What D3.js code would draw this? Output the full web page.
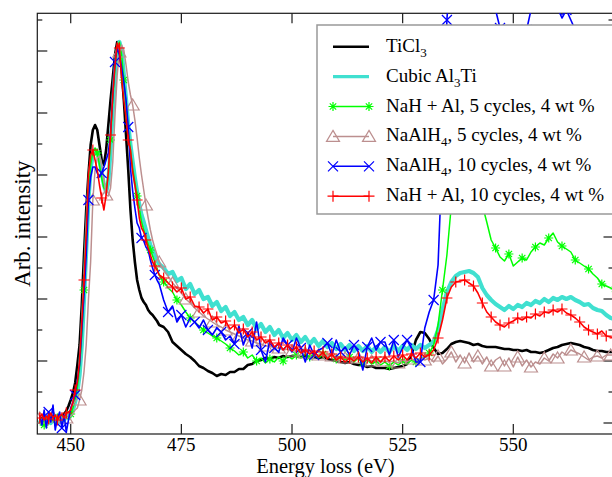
<!DOCTYPE html>
<html><head><meta charset="utf-8">
<script src="https://cdn.jsdelivr.net/npm/d3@7"></script>
<style>
body{margin:0;background:#fff}
svg{display:block}
text{font-family:"Liberation Serif","Times New Roman",serif;fill:#000}
</style>
</head><body>
<svg id="chart" width="612" height="477"></svg>
<script>
// Energy loss grid (eV)
const energy = [
443,443.5,444,444.5,445,445.5,446,446.5,447,447.5,448,448.5,449,449.5,
450,450.5,451,451.5,452,452.5,453,453.5,454,454.5,455,455.5,456,456.5,
457,457.5,458,458.5,459,459.5,460,460.5,461,461.5,462,462.5,463,463.5,
464,464.5,465,465.5,466,466.5,467,467.5,468,468.5,469,469.5,470,
471,472,473,474,475,476,477,478,479,480,
481,482,483,484,485,486,487,488,489,490,
491,492,493,494,495,496,497,498,499,500,
501,502,503,504,505,506,507,508,509,510,
511,512,513,514,515,516,517,518,519,520,
521,522,523,524,525,526,527,528,529,530,
531,532,533,534,535,536,537,538,539,540,
541,542,543,544,545,546,547,548,549,550,
551,552,553,554,555,556,557,558,559,560,
561,562,563,564,565,566,567,568,569,570,
571,572,573];

// Intensities (arb. units)
const ticl3 = [
3,5,2,6,3,5,7,4,6,5,7,9,12,17,
23,30,40,58,78,118,168,213,248,278,293,298,293,278,
263,258,273,298,323,345,368,381,378,353,323,288,253,213,
183,161,143,133,125,121,118,113,110,108,105,102,98,
96,91,81,77,73,69,66,62,57,55,
52,50,47,49,48,51,51,54,54,58,
59,62,63,65,64,66,65,67,66,67,
67,66,67,65,66,65,66,64,63,62,
61,60,61,59,58,58,56,57,55,55,
55,54,55,56,57,59,68,83,91,90,
84,75,69,70,74,79,81,82,81,80,
78,79,77,76,76,76,75,74,74,73,
73,72,73,71,71,70,71,73,75,76,
78,79,80,79,78,76,75,73,72,72,
71,71,71];

const cubicAl3Ti = [
3,-1,5,1,6,0,4,2,7,1,5,3,7,5,
8,13,21,31,48,78,123,173,223,255,268,273,271,263,
251,238,231,241,273,313,348,371,381,373,348,323,298,278,
261,245,231,218,208,201,193,185,178,173,167,163,159,
155,149,151,142,145,134,139,129,133,124,
126,117,121,112,116,107,111,103,106,98,
103,94,99,91,96,88,93,85,90,83,
88,81,86,79,84,77,82,76,80,74,
79,73,78,72,77,72,77,71,76,71,
76,71,77,72,77,73,78,74,78,75,
78,81,93,113,131,141,147,150,151,152,
150,146,135,128,123,119,116,113,117,114,
118,116,120,118,122,120,124,121,125,123,
126,124,126,123,121,118,119,115,113,112,
108,105,104];

const nahAl5 = [
1,5,-2,4,0,6,2,-1,5,3,7,2,6,4,
9,15,23,35,55,88,133,183,228,258,271,275,270,258,
245,235,233,248,283,323,355,375,381,368,343,318,293,273,
255,241,227,215,201,193,185,179,173,167,161,155,148,
141,135,131,123,118,111,105,101,97,93,
90,87,85,82,79,75,72,68,71,65,
68,62,65,60,64,61,66,62,67,64,
68,65,69,66,68,65,69,66,68,64,
67,63,66,61,65,60,63,59,62,58,
61,57,61,58,62,59,63,61,65,66,
70,78,98,133,168,218,263,293,305,301,
278,248,218,201,183,175,166,162,169,157,
161,165,163,171,176,180,178,185,190,181,
177,174,171,163,160,157,154,149,145,139,
137,135,134];

const naalh4_5 = [
5,2,6,1,4,3,6,2,5,4,6,3,5,6,
7,9,13,15,23,33,51,78,123,161,223,253,265,267,
258,243,228,227,235,261,308,348,371,378,373,358,341,328,
318,303,285,265,248,233,218,205,193,183,175,168,161,
153,147,140,135,130,124,120,115,111,107,
104,101,98,96,93,91,89,87,85,83,
82,80,79,77,77,75,75,73,74,72,
72,71,70,70,69,68,68,67,67,66,
66,65,65,64,65,63,64,62,63,61,
62,61,62,60,63,61,64,62,65,63,
65,61,67,59,64,71,61,68,60,70,
61,67,59,66,57,63,66,57,65,56,
66,57,63,56,61,59,65,62,69,65,
71,68,73,71,69,66,63,66,67,65,
68,68,68];

const naalh4_10 = [
8,-2,13,-5,11,1,18,-7,5,11,-5,8,-9,3,
15,21,28,43,58,93,128,168,223,246,256,256,250,246,
250,256,263,270,290,328,361,375,368,356,341,323,296,255,
232,215,200,195,185,182,176,173,163,155,148,143,139,
123,111,117,101,108,96,105,101,95,103,
93,88,95,91,83,87,79,97,78,90,
75,101,73,61,83,75,71,85,78,71,
85,75,61,78,68,73,75,80,68,83,
71,76,68,78,71,53,76,85,73,81,
81,68,83,66,75,83,75,61,61,95,
111,123,158,273,403,473,503,523,533,528,
513,493,468,443,428,413,395,378,363,358,
363,373,393,413,433,448,443,433,423,415,
405,413,403,393,373,353,338,328,323,318,
315,313,311];

const nahAl10 = [
5,9,3,7,4,10,5,8,3,7,9,5,10,11,
13,21,33,41,63,101,143,191,248,268,273,263,253,238,
225,213,228,251,288,328,358,380,375,345,323,305,283,273,
251,238,223,205,195,191,183,175,168,161,157,153,148,
145,140,136,131,135,124,126,117,116,110,
114,103,106,100,102,94,98,90,94,86,
91,83,86,80,83,76,80,73,78,72,
76,70,73,69,72,66,71,64,69,63,
66,61,65,62,66,61,65,60,66,61,
66,62,67,63,68,63,69,65,70,66,
68,73,85,103,125,136,141,142,143,140,
137,130,120,111,106,101,98,96,100,102,
105,103,106,105,109,107,111,110,113,111,
114,110,108,105,101,96,93,91,89,92,
87,86,85];

const xTicks = [450, 475, 500, 525, 550];
const yMajorTicks = [0, 62, 124, 186, 248, 310, 372];
const yMinorTicks = [31, 93, 155, 217, 279, 341, 403];

const legendLabels = [
  [["TiCl",0],["3",1]],
  [["Cubic Al",0],["3",1],["Ti",0]],
  [["NaH + Al, 5 cycles, 4 wt %",0]],
  [["NaAlH",0],["4",1],[", 5 cycles, 4 wt %",0]],
  [["NaAlH",0],["4",1],[", 10 cycles, 4 wt %",0]],
  [["NaH + Al, 10 cycles, 4 wt %",0]]
];

const series = [
  {values: ticl3,      color: "#000000", width: 2.6, marker: null},
  {values: cubicAl3Ti, color: "#40e0d0", width: 4.2, marker: null},
  {values: nahAl5,     color: "#00ff00", width: 1.5, marker: "star", step: 3, off: 444},
  {values: naalh4_5,   color: "#bc8f8f", width: 1.5, marker: "tri",  step: 3, off: 443},
  {values: naalh4_10,  color: "#0000ff", width: 1.6, marker: "x",    step: 3, off: 445},
  {values: nahAl10,    color: "#ff0000", width: 1.6, marker: "plus", step: 2, off: 443}
];

const svg = d3.select("#chart");
const L = 37.3, R = 613.5, T = 13.3, B = 434;
const x = d3.scaleLinear().domain([442.45, 572.64]).range([L, R]);
const y = d3.scaleLinear().domain([-11, 409.7]).range([B, T]);

// frame & ticks
const axisG = svg.append("g").attr("stroke", "#1a1a1a").attr("stroke-width", 1.2).attr("fill", "none");
axisG.append("rect").attr("x", L).attr("y", T).attr("width", R - L).attr("height", B - T);
xTicks.forEach(t => {
  axisG.append("line").attr("x1", x(t)).attr("x2", x(t)).attr("y1", B).attr("y2", B - 10);
  axisG.append("line").attr("x1", x(t)).attr("x2", x(t)).attr("y1", T).attr("y2", T + 10);
});
yMajorTicks.forEach(t => {
  axisG.append("line").attr("x1", L).attr("x2", L + 10).attr("y1", y(t)).attr("y2", y(t));
  axisG.append("line").attr("x1", R).attr("x2", R - 10).attr("y1", y(t)).attr("y2", y(t));
});
yMinorTicks.forEach(t => {
  axisG.append("line").attr("x1", L).attr("x2", L + 5).attr("y1", y(t)).attr("y2", y(t));
  axisG.append("line").attr("x1", R).attr("x2", R - 5).attr("y1", y(t)).attr("y2", y(t));
});

// tick labels
svg.append("g").selectAll("text").data(xTicks).join("text")
  .attr("x", d => x(d)).attr("y", 450.5).attr("text-anchor", "middle")
  .attr("font-size", 19).text(d => d);

svg.append("text").attr("x", (L + R) / 2).attr("y", 473.2).attr("text-anchor", "middle")
  .attr("font-size", 20.5).text("Energy loss (eV)");
svg.append("text").attr("transform", `translate(30,${(T + B) / 2}) rotate(-90)`)
  .attr("text-anchor", "middle").attr("font-size", 23).text("Arb. intensity");

// clip
svg.append("clipPath").attr("id", "clip").append("rect")
  .attr("x", L).attr("y", T).attr("width", R - L).attr("height", B - T);

function drawMarker(g, cx, cy, type, color) {
  let d;
  if (type === "plus") d = `M${cx-5.5},${cy}H${cx+5.5}M${cx},${cy-5.5}V${cy+5.5}`;
  else if (type === "x") d = `M${cx-5},${cy-5}L${cx+5},${cy+5}M${cx-5},${cy+5}L${cx+5},${cy-5}`;
  else if (type === "star") d = `M${cx-4.5},${cy}H${cx+4.5}M${cx},${cy-4.5}V${cy+4.5}M${cx-3.2},${cy-3.2}L${cx+3.2},${cy+3.2}M${cx-3.2},${cy+3.2}L${cx+3.2},${cy-3.2}`;
  else if (type === "tri") d = `M${cx},${cy-6}L${cx+6.5},${cy+5}L${cx-6.5},${cy+5}Z`;
  g.append("path").attr("d", d).attr("fill", "none").attr("stroke", color).attr("stroke-width", 1.2);
}

const plotG = svg.append("g").attr("clip-path", "url(#clip)");
const line = d3.line().x(d => x(d[0])).y(d => y(d[1]));
series.forEach(s => {
  const pts = energy.map((e, i) => [e, s.values[i]]);
  plotG.append("path").datum(pts).attr("d", line)
    .attr("fill", "none").attr("stroke", s.color).attr("stroke-width", s.width)
    .attr("stroke-linejoin", "round");
  if (s.marker) {
    const mg = plotG.append("g");
    pts.filter(p => Number.isInteger(p[0]) && (p[0] - s.off) % s.step === 0)
      .forEach(p => drawMarker(mg, x(p[0]), y(p[1]), s.marker, s.color));
  }
});

// legend
const lg = svg.append("g");
lg.append("rect").attr("x", 317).attr("y", 25).attr("width", 300).attr("height", 189)
  .attr("fill", "#fff").attr("stroke", "#999").attr("stroke-width", 1.5);
series.forEach((s, i) => {
  const cy = 46.7 + 29.9 * i;
  lg.append("line").attr("x1", 333).attr("x2", 369).attr("y1", cy).attr("y2", cy)
    .attr("stroke", s.color).attr("stroke-width", Math.min(s.width, 3.2));
  if (s.marker) { drawMarker(lg, 333, cy, s.marker, s.color); drawMarker(lg, 369, cy, s.marker, s.color); }
  const t = lg.append("text").attr("x", 386).attr("y", cy + 5).attr("font-size", 19);
  let sub = false;
  legendLabels[i].forEach(([txt, isSub]) => {
    const sp = t.append("tspan").text(txt);
    if (isSub && !sub) { sp.attr("dy", 5).attr("font-size", 13); sub = true; }
    else if (isSub) { sp.attr("font-size", 13); }
    else if (sub) { sp.attr("dy", -5); sub = false; }
  });
});
</script>
</body></html>
